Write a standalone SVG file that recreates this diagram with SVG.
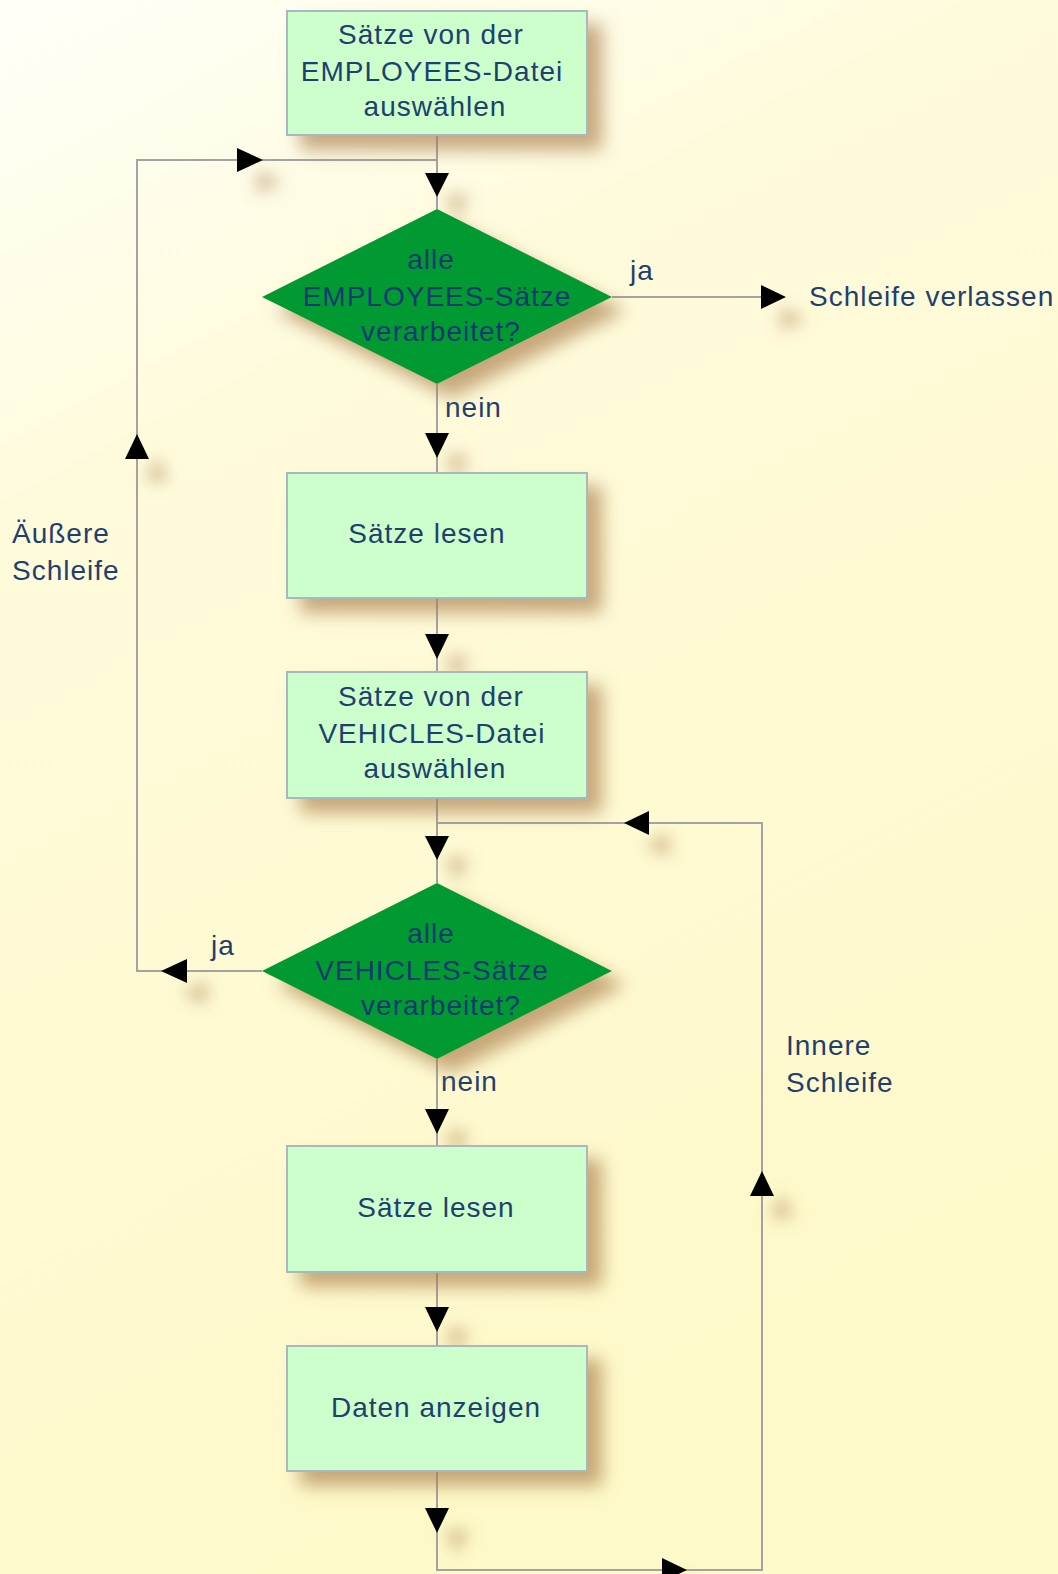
<svg xmlns="http://www.w3.org/2000/svg" width="1058" height="1574" viewBox="0 0 1058 1574">
<defs>
<linearGradient id="bg" x1="0" y1="0" x2="0.35" y2="1">
<stop offset="0" stop-color="#fffff8"/>
<stop offset="0.3" stop-color="#fefbdc"/>
<stop offset="1" stop-color="#fef9c9"/>
</linearGradient>
<filter id="shadow" x="-20%" y="-20%" width="150%" height="160%">
<feDropShadow dx="14" dy="14" stdDeviation="9" flood-color="#a87c48" flood-opacity="0.65"/>
</filter>
<filter id="ashadow" x="-150%" y="-150%" width="500%" height="500%">
<feDropShadow dx="20" dy="22" stdDeviation="8" flood-color="#a87c48" flood-opacity="0.5"/>
</filter>
<style>
.box{fill:#ccffcc;stroke:#a8b8c0;stroke-width:2}
.dia{fill:#009933}
.t{font-family:"Liberation Sans",Arial,sans-serif;font-size:28px;letter-spacing:1px;fill:#1f3f6e}
.td{font-family:"Liberation Sans",Arial,sans-serif;font-size:28px;letter-spacing:1px;fill:#123a70}
.c{text-anchor:middle}
.ln{fill:none;stroke:#a3a3a3;stroke-width:2}
.ah{fill:#000000}
</style>
</defs>
<rect width="1058" height="1574" fill="url(#bg)"/>

<g id="connectors">
<path class="ln" d="M437 136 V209"/>
<path class="ln" d="M437 160 H137 V971 H262"/>
<path class="ln" d="M612 297 H770"/>
<path class="ln" d="M437 384 V473"/>
<path class="ln" d="M437 598 V672"/>
<path class="ln" d="M437 798 V883"/>
<path class="ln" d="M437 823 H762 V1570 H437 V1471"/>
<path class="ln" d="M437 1059 V1146"/>
<path class="ln" d="M437 1272 V1346"/>
<g filter="url(#ashadow)">
<polygon class="ah" points="237,148 263,160 237,172"/>
<polygon class="ah" points="425,173 449,173 437,197"/>
<polygon class="ah" points="761,285 786,297 761,309"/>
<polygon class="ah" points="425,433 449,433 437,458"/>
<polygon class="ah" points="425,634 449,634 437,659"/>
<polygon class="ah" points="649,811 624,823 649,835"/>
<polygon class="ah" points="425,836 449,836 437,860"/>
<polygon class="ah" points="187,959 161,971 187,983"/>
<polygon class="ah" points="125,459 137,434 149,459"/>
<polygon class="ah" points="425,1109 449,1109 437,1134"/>
<polygon class="ah" points="425,1307 449,1307 437,1332"/>
<polygon class="ah" points="425,1508 449,1508 437,1533"/>
<polygon class="ah" points="662,1558 687,1570 662,1582"/>
<polygon class="ah" points="750,1196 762,1171 774,1196"/>
</g>
<text class="t" x="630" y="280">ja</text>
<text class="t" x="445" y="417">nein</text>
<text class="t" x="211" y="955">ja</text>
<text class="t" x="441" y="1091">nein</text>
</g>

<g id="n1">
<rect class="box" x="287" y="11" width="300" height="124" filter="url(#shadow)"/>
<text class="t c" x="431" y="44">Sätze von der</text>
<text class="t c" x="432" y="81">EMPLOYEES-Datei</text>
<text class="t c" x="435" y="116">auswählen</text>
</g>

<g id="d1">
<polygon class="dia" points="437,209 612,297 437,384 262,297" filter="url(#shadow)"/>
<text class="td c" x="431" y="269">alle</text>
<text class="td c" x="437" y="306">EMPLOYEES-Sätze</text>
<text class="td c" x="441" y="341">verarbeitet?</text>
</g>

<g id="exit">
<text class="t" x="809" y="306">Schleife verlassen</text>
</g>

<g id="n2">
<rect class="box" x="287" y="473" width="300" height="125" filter="url(#shadow)"/>
<text class="t c" x="427" y="543">Sätze lesen</text>
</g>

<g id="n3">
<rect class="box" x="287" y="672" width="300" height="126" filter="url(#shadow)"/>
<text class="t c" x="431" y="706">Sätze von der</text>
<text class="t c" x="432" y="743">VEHICLES-Datei</text>
<text class="t c" x="435" y="778">auswählen</text>
</g>

<g id="d2">
<polygon class="dia" points="437,883 612,971 437,1059 262,971" filter="url(#shadow)"/>
<text class="td c" x="431" y="943">alle</text>
<text class="td c" x="432" y="980">VEHICLES-Sätze</text>
<text class="td c" x="441" y="1015">verarbeitet?</text>
</g>

<g id="n4">
<rect class="box" x="287" y="1146" width="300" height="126" filter="url(#shadow)"/>
<text class="t c" x="436" y="1217">Sätze lesen</text>
</g>

<g id="n5">
<rect class="box" x="287" y="1346" width="300" height="125" filter="url(#shadow)"/>
<text class="t c" x="436" y="1417">Daten anzeigen</text>
</g>

<g id="outer">
<text class="t" x="12" y="543">Äußere</text>
<text class="t" x="12" y="580">Schleife</text>
</g>

<g id="inner">
<text class="t" x="786" y="1055">Innere</text>
<text class="t" x="786" y="1092">Schleife</text>
</g>
</svg>
